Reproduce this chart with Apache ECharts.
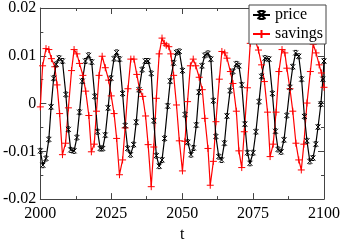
<!DOCTYPE html>
<html><head><meta charset="utf-8">
<script src="https://cdn.jsdelivr.net/npm/echarts@6/dist/echarts.min.js"></script>
<style>html,body{margin:0;padding:0;background:#fff}#c{width:343px;height:248px}</style>
</head><body><div id="c"></div>
<script>
var xTicks = [2000, 2025, 2050, 2075, 2100];
var yTicks = [-0.02, -0.01, 0, 0.01, 0.02];
var seriesNames = ['price', 'savings'];

var priceT = [2000, 2000.9, 2002, 2003, 2003.8, 2004.7, 2005.6, 2006.6, 2007.8, 2009,
  2009.9, 2010.7, 2011.9, 2012.9, 2013.8, 2014.8, 2015.9, 2017, 2018.1, 2019.2,
  2020.2, 2021.1, 2022, 2022.9, 2023.9, 2024.9, 2026, 2026.9, 2027.9, 2029,
  2029.9, 2030.8, 2031.8, 2032.9, 2033.8, 2034.8, 2035.9, 2037, 2038, 2039.1,
  2040, 2040.9, 2041.9, 2042.9, 2043.8, 2044.9, 2045.8, 2047, 2048, 2049,
  2050.1, 2051, 2052, 2053.1, 2054, 2055, 2055.9, 2057, 2058, 2059.1,
  2060.1, 2061, 2061.9, 2062.9, 2063.9, 2064.9, 2065.8, 2066.9, 2067.9, 2069.1,
  2070, 2071, 2072.1, 2073, 2073.9, 2075, 2076, 2077.1, 2078, 2079.2,
  2080.6, 2081.8, 2082.9, 2083.8, 2084.9, 2085.9, 2086.9, 2088, 2089, 2090,
  2091.1, 2092.1, 2093.1, 2094, 2095, 2096.1, 2097.1, 2097.9, 2098.9, 2099.6,
  2100];
var priceV = [-0.0099, -0.0129, -0.0115, -0.0075, -0.0007, 0.0053, 0.0082, 0.0095, 0.0089, 0.0019,
  -0.0054, -0.0097, -0.0099, -0.0071, -0.0018, 0.0047, 0.0089, 0.0101, 0.0087, 0.0015,
  -0.0059, -0.0094, -0.0094, -0.0066, -0.0009, 0.0053, 0.0094, 0.0107, 0.0093, 0.0021,
  -0.0046, -0.0094, -0.0107, -0.0086, -0.0039, 0.0029, 0.0071, 0.0089, 0.0089, 0.0063,
  -0.0036, -0.0109, -0.0131, -0.0118, -0.0073, -0.0005, 0.0047, 0.0085, 0.0107, 0.0109,
  0.0069, -0.0023, -0.0081, -0.0107, -0.0093, -0.0045, 0.0024, 0.0079, 0.0101, 0.0105,
  0.0093, 0.0006, -0.0069, -0.0111, -0.0118, -0.0083, -0.0026, 0.0027, 0.0067, 0.0083,
  0.0079, 0.0039, -0.0043, -0.0103, -0.0125, -0.0103, -0.0059, 0.0004, 0.0057, 0.0095,
  0.0093, 0.0021, -0.0058, -0.0096, -0.0101, -0.0076, -0.0025, 0.0034, 0.0077, 0.0106,
  0.0099, 0.0051, -0.0027, -0.0078, -0.0121, -0.0114, -0.0085, -0.0049, -0.0001, 0.0051,
  0.0089];

var savingsT = [2000, 2000.8, 2002, 2003, 2003.9, 2005.1, 2005.9, 2006.8, 2007.8, 2008.9,
  2009.9, 2011, 2011.9, 2012.9, 2013.8, 2015, 2016, 2017.1, 2018, 2019,
  2019.8, 2020.7, 2021.8, 2022.9, 2024.1, 2025, 2026, 2026.9, 2027.9, 2029,
  2029.9, 2030.9, 2031.9, 2033, 2034, 2035, 2036.1, 2037.1, 2038, 2039.1,
  2040, 2040.9, 2041.9, 2042.9, 2043.7, 2044.4, 2045.3, 2046, 2047, 2048,
  2049, 2050.1, 2051, 2051.9, 2052.9, 2053.9, 2054.8, 2056, 2057.1, 2058,
  2059.1, 2059.9, 2061, 2061.9, 2063.1, 2064, 2065, 2065.8, 2067, 2067.9,
  2069.1, 2070, 2071, 2071.9, 2073, 2074, 2075.4, 2076.9, 2078, 2079,
  2080.1, 2081, 2082.1, 2083.1, 2084.1, 2085.2, 2086.2, 2086.9, 2088, 2089,
  2090.1, 2091.1, 2092, 2092.9, 2094, 2095.2, 2096.2, 2097.2, 2098.3, 2099.1,
  2100];
var savingsV = [-0.0007, 0.0079, 0.0115, 0.0113, 0.0094, 0.0077, 0.0039, -0.0021, -0.0107, -0.0083,
  -0.0009, 0.0069, 0.0113, 0.0104, 0.0084, 0.0059, 0.0026, -0.0025, -0.0101, -0.0085,
  -0.0016, 0.0059, 0.0099, 0.0075, 0.0049, 0.0016, -0.0021, -0.0073, -0.0149, -0.0118,
  -0.0051, 0.0031, 0.0093, 0.0093, 0.0061, 0.0029, 0.0015, -0.0026, -0.0086, -0.0174,
  -0.0091, 0.0011, 0.0104, 0.0137, 0.0126, 0.0122, 0.0119, 0.0104, 0.0059, -0.0003,
  -0.0078, -0.0141, -0.0079, 0.0004, 0.0079, 0.0093, 0.0079, 0.0055, 0.0029, -0.0031,
  -0.0094, -0.0171, -0.0121, -0.0038, 0.0051, 0.0109, 0.0106, 0.0095, 0.0067, 0.0042,
  -0.0016, -0.0099, -0.0134, -0.0059, 0.0033, 0.0126, 0.0138, 0.0112, 0.0081, 0.0046,
  -0.0018, -0.0111, -0.0085, -0.0018, 0.0067, 0.0113, 0.0106, 0.0074, 0.0031, -0.0016,
  -0.0083, -0.0118, -0.0139, -0.0085, 0.0001, 0.0067, 0.0124, 0.0106, 0.0081, 0.0064,
  0.0034];

function zip(t, v) { return t.map(function (x, i) { return [x, v[i]]; }); }

var FONT = '"Liberation Serif", "DejaVu Serif", serif';
var AX = '#444';

function xAx(pos, labels) {
  return {
    type: 'value', position: pos, min: xTicks[0], max: xTicks[xTicks.length - 1],
    interval: xTicks[1] - xTicks[0],
    name: labels ? 't' : '', nameLocation: 'middle', nameGap: 24,
    nameTextStyle: { fontFamily: FONT, fontSize: 16, color: '#000' },
    axisLine: { show: true, onZero: false, lineStyle: { color: AX, width: 1 } },
    axisTick: { show: true, inside: true, length: 6, lineStyle: { color: AX } },
    minorTick: { show: true, splitNumber: 2, length: 3, lineStyle: { color: AX } },
    splitLine: { show: false },
    axisLabel: { show: labels, fontFamily: FONT, fontSize: 16, color: '#000', margin: 7,
      formatter: function (v) { return String(v); } }
  };
}
function yAx(pos, labels) {
  return {
    type: 'value', position: pos, min: yTicks[0], max: yTicks[yTicks.length - 1],
    interval: 0.01,
    axisLine: { show: true, onZero: false, lineStyle: { color: AX, width: 1 } },
    axisTick: { show: true, inside: true, length: 6, lineStyle: { color: AX } },
    minorTick: { show: true, splitNumber: 2, length: 3, lineStyle: { color: AX } },
    splitLine: { show: false },
    axisLabel: { show: labels, fontFamily: FONT, fontSize: 16, color: '#000', margin: 4,
      formatter: function (v) { return String(+v.toFixed(2)); } }
  };
}

var X_SYM = 'path://M0,0L10,10M10,0L0,10M2,0L8,0M2,10L8,10';
var P_SYM = 'path://M5,0L5,10M0,5L10,5';

var chart = echarts.init(document.getElementById('c'), null, { renderer: 'canvas' });
chart.setOption({
  animation: false,
  backgroundColor: '#fff',
  grid: { left: 37, right: 17, top: 6, bottom: 40, containLabel: false },
  xAxis: [xAx('bottom', true), xAx('top', false)],
  yAxis: [yAx('left', true), yAx('right', false)],
  legend: {
    orient: 'vertical', right: 17, top: 5,
    backgroundColor: '#fff', borderColor: AX, borderWidth: 1,
    padding: [2, 3, 2, 3], itemGap: 3, itemWidth: 17, itemHeight: 10,
    textStyle: { fontFamily: FONT, fontSize: 16, color: '#000' },
    data: seriesNames
  },
  series: [
    { name: seriesNames[1], type: 'line', data: zip(savingsT, savingsV),
      symbol: P_SYM, symbolSize: 7, showSymbol: true,
      lineStyle: { color: '#ff0000', width: 1.2 },
      itemStyle: { color: '#ff0000', borderColor: '#ff0000', borderWidth: 1 } },
    { name: seriesNames[0], type: 'line', data: zip(priceT, priceV),
      symbol: X_SYM, symbolSize: 5, showSymbol: true,
      lineStyle: { color: '#000', width: 1.2 },
      itemStyle: { color: '#000', borderColor: '#000', borderWidth: 1 } }
  ]
});
</script></body></html>
